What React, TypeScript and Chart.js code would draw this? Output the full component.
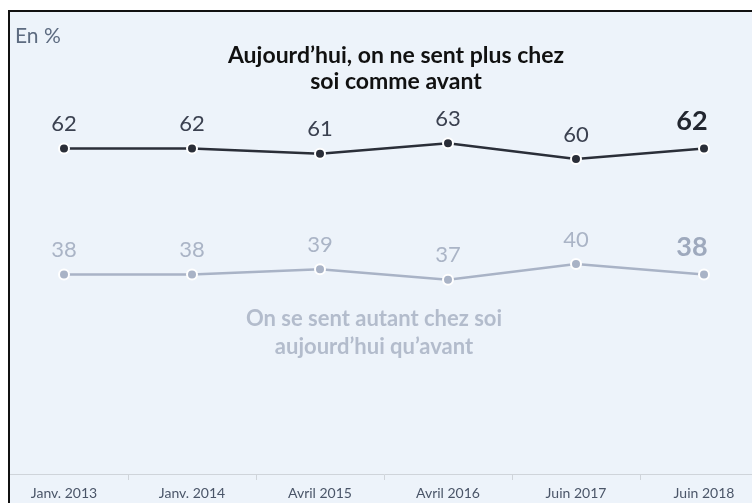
import React, { useEffect, useRef } from "react";
import { Chart, registerables } from "chart.js";

Chart.register(...registerables);

const categories = ["Janv. 2013", "Janv. 2014", "Avril 2015", "Avril 2016", "Juin 2017", "Juin 2018"];
const plusValues = [62, 62, 61, 63, 60, 62];
const autantValues = [38, 38, 39, 37, 40, 38];
const titleLines = ["Aujourd\u2019hui, on ne sent plus chez", "soi comme avant"];
const subtitleLines = ["On se sent autant chez soi", "aujourd\u2019hui qu\u2019avant"];
const unitLabel = "En %";

const FONT = "Lato, 'Open Sans', sans-serif";
const DARK = "#2a2e38";
const LIGHT = "#a9b3c6";

const framePlugin = {
  id: "frame",
  beforeDraw(chart: any) {
    const { ctx, width, height } = chart;
    ctx.save();
    ctx.fillStyle = "#ffffff";
    ctx.fillRect(0, 0, width, height);
    ctx.fillStyle = "#edf3fa";
    ctx.fillRect(10, 12, width, height);
    ctx.restore();
  },
  afterDatasetsDraw(chart: any) {
    const { ctx } = chart;
    ctx.save();
    ctx.textBaseline = "alphabetic";
    // unit label
    ctx.textAlign = "left";
    ctx.fillStyle = "#5d6b80";
    ctx.font = `21px ${FONT}`;
    ctx.fillText(unitLabel, 15, 43);
    // title
    ctx.textAlign = "center";
    ctx.fillStyle = "#111111";
    ctx.font = `bold 23px ${FONT}`;
    titleLines.forEach((t, i) => ctx.fillText(t, 396, 63 + i * 26));
    // subtitle
    ctx.fillStyle = "#b3bccc";
    ctx.font = `bold 22px ${FONT}`;
    subtitleLines.forEach((t, i) => ctx.fillText(t, 374, 326 + i * 28));
    // value labels
    chart.data.datasets.forEach((ds: any, di: number) => {
      const meta = chart.getDatasetMeta(di);
      const n = ds.data.length;
      meta.data.forEach((pt: any, i: number) => {
        const last = i === n - 1;
        const color = di === 0 ? (last ? "#22262f" : "#3b4150") : last ? "#9ea9bd" : "#aab4c6";
        ctx.fillStyle = color;
        ctx.font = last ? `bold 27px ${FONT}` : `22px ${FONT}`;
        ctx.textAlign = "center";
        ctx.fillText(String(ds.data[i]), pt.x - (last ? 12 : 0), pt.y - (last ? 19 : 17.5));
      });
    });
    ctx.restore();
  },
  afterDraw(chart: any) {
    const { ctx, width, height } = chart;
    ctx.save();
    ctx.fillStyle = "#ffffff";
    ctx.fillRect(0, 0, 8, height);
    ctx.fillStyle = "#111111";
    ctx.fillRect(8, 10, width, 2);
    ctx.fillRect(8, 10, 2, height);
    ctx.restore();
  },
};

export default function App() {
  const ref = useRef<HTMLCanvasElement>(null);
  useEffect(() => {
    document.body.style.overflow = "hidden";
    const chart = new Chart(ref.current!, {
      type: "line",
      data: {
        labels: categories,
        datasets: [
          {
            data: plusValues,
            borderColor: DARK,
            backgroundColor: DARK,
            pointBackgroundColor: DARK,
            pointBorderColor: "#ffffff",
            pointBorderWidth: 2,
            pointRadius: 5,
            borderWidth: 2.5,
            tension: 0,
          },
          {
            data: autantValues,
            borderColor: LIGHT,
            backgroundColor: LIGHT,
            pointBackgroundColor: LIGHT,
            pointBorderColor: "#ffffff",
            pointBorderWidth: 2,
            pointRadius: 5,
            borderWidth: 2.5,
            tension: 0,
          },
        ],
      },
      options: {
        responsive: false,
        animation: false,
        devicePixelRatio: 1,
        layout: { autoPadding: false, padding: { top: 12, left: 0, right: 0, bottom: 0 } },
        plugins: { legend: { display: false }, tooltip: { enabled: false }, title: { display: false } },
        scales: {
          x: {
            type: "category",
            offset: true,
            grid: { offset: true, drawOnChartArea: false, drawTicks: true, tickLength: 6, color: "#cfd4da" },
            border: { display: true, color: "#cfd4da", width: 1 },
            ticks: { color: "#4a5568", font: { family: FONT, size: 14 }, padding: 5, maxRotation: 0, autoSkip: false },
            afterFit: (scale: any) => {
              scale.height = 29;
            },
          },
          y: { display: false, min: 0, max: 88 },
        },
      } as any,
      plugins: [framePlugin],
    });
    return () => chart.destroy();
  }, []);
  return (
    <div style={{ position: "fixed", left: 0, top: 0, width: 752, height: 503, overflow: "hidden", background: "#fff" }}>
      <canvas ref={ref} width={768} height={503} style={{ display: "block", width: 768, height: 503 }} />
    </div>
  );
}
